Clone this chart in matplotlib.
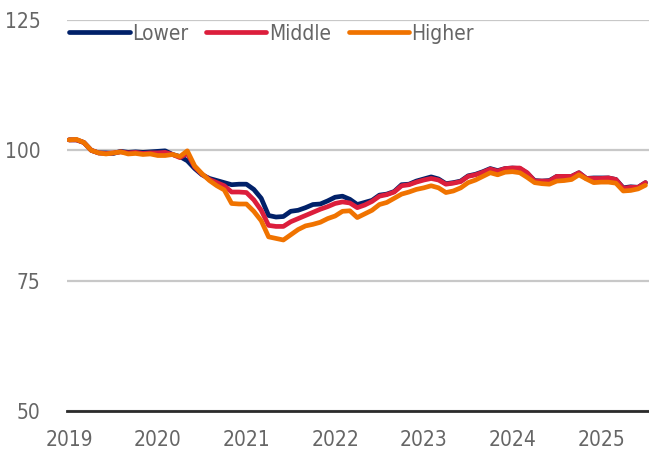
import matplotlib
matplotlib.use('Agg')
import matplotlib.pyplot as plt
import numpy as np

# monthly index, Jan 2019 .. Jul 2025
start_year = 2019
years = [2019, 2020, 2021, 2022, 2023, 2024, 2025]

lower = [102.0, 102.0, 101.5, 100.0, 99.5, 99.5, 99.4, 99.8, 99.6, 99.7, 99.6, 99.7,
         99.8, 99.9, 99.2, 98.8, 98.0, 96.5, 95.3, 94.6, 94.2, 93.8, 93.4, 93.5,
         93.5, 92.5, 90.8, 87.5, 87.2, 87.3, 88.3, 88.5, 89.0, 89.6, 89.7, 90.3,
         91.0, 91.2, 90.6, 89.6, 90.0, 90.4, 91.4, 91.6, 92.1, 93.4, 93.5, 94.1,
         94.5, 94.9, 94.5, 93.6, 93.8, 94.1, 95.1, 95.4, 95.9, 96.5, 96.1, 96.5,
         96.6, 96.5, 95.6, 94.2, 94.1, 94.2, 95.0, 95.0, 95.0, 95.7, 94.6, 94.7,
         94.7, 94.7, 94.4, 92.8, 93.0, 92.9, 93.8]

middle = [102.0, 102.0, 101.5, 100.0, 99.5, 99.4, 99.5, 99.7, 99.5, 99.6, 99.4, 99.5,
          99.5, 99.6, 99.2, 98.6, 99.4, 96.8, 95.4, 94.4, 93.8, 93.2, 92.0, 92.0,
          91.9, 90.5, 88.5, 85.6, 85.4, 85.4, 86.3, 86.9, 87.5, 88.1, 88.7, 89.2,
          89.8, 90.1, 89.9, 89.0, 89.5, 90.2, 91.2, 91.5, 92.0, 93.2, 93.4, 93.9,
          94.3, 94.6, 94.3, 93.5, 93.7, 94.0, 95.0, 95.3, 95.8, 96.4, 96.0, 96.5,
          96.6, 96.6, 95.7, 94.1, 94.1, 94.1, 95.0, 95.0, 95.0, 95.7, 94.6, 94.6,
          94.6, 94.7, 94.4, 92.7, 92.9, 92.9, 93.8]

higher = [102.0, 102.1, 101.5, 100.0, 99.5, 99.3, 99.5, 99.7, 99.3, 99.4, 99.2, 99.3,
          99.0, 99.0, 99.2, 98.8, 99.9, 97.0, 95.5, 94.2, 93.2, 92.4, 89.8, 89.7,
          89.7, 88.3, 86.5, 83.4, 83.1, 82.8, 83.8, 84.8, 85.5, 85.8, 86.2, 86.9,
          87.4, 88.3, 88.4, 87.1, 87.8, 88.5, 89.6, 90.0, 90.8, 91.6, 92.0, 92.5,
          92.8, 93.2, 92.8, 91.9, 92.2, 92.8, 93.8, 94.3, 95.0, 95.7, 95.3, 95.8,
          95.9, 95.7, 94.8, 93.8, 93.6, 93.5, 94.1, 94.2, 94.4, 95.3, 94.5, 93.8,
          93.9, 93.9, 93.7, 92.2, 92.3, 92.6, 93.3]

labels = ['Lower', 'Middle', 'Higher']
colors = ['#012169', '#DC1E3C', '#F07300']

plt.rcParams['font.family'] = ['DejaVu Sans']
plt.rcParams['font.stretch'] = 'condensed'

t = start_year + np.arange(len(lower)) / 12.0

fig = plt.figure(figsize=(6.49, 4.57), dpi=100)
ax = fig.add_axes([0.103, 0.1007, 0.897, 0.8556])

for series, lab, col in zip([lower, middle, higher], labels, colors):
    ax.plot(t, series, color=col, lw=3.4, label=lab, solid_capstyle='round')

ax.set_ylim(50, 125)
ax.set_yticks([50, 75, 100, 125])
ax.set_xlim(2018.975, 2025.54)
ax.set_xticks(years)
ax.set_xticklabels([str(y) for y in years])

ax.grid(axis='y', color='#C8C8C8', lw=1.6)
ax.set_axisbelow(True)
for s in ['top', 'right', 'left']:
    ax.spines[s].set_visible(False)
ax.spines['bottom'].set_color('#2b2b2b')
ax.spines['bottom'].set_linewidth(2)

ax.tick_params(axis='both', length=0, labelsize=15, colors='#666666')
ax.tick_params(axis='y', pad=19)
ax.tick_params(axis='x', pad=14)

ax.legend(loc='center left', bbox_to_anchor=(0.004, 0.965), ncol=3, frameon=False,
          fontsize=15, labelcolor='#666666', handlelength=2.9, handletextpad=0.12,
          columnspacing=0.85, borderpad=0, borderaxespad=0)

fig.savefig('out.png', dpi=100)
